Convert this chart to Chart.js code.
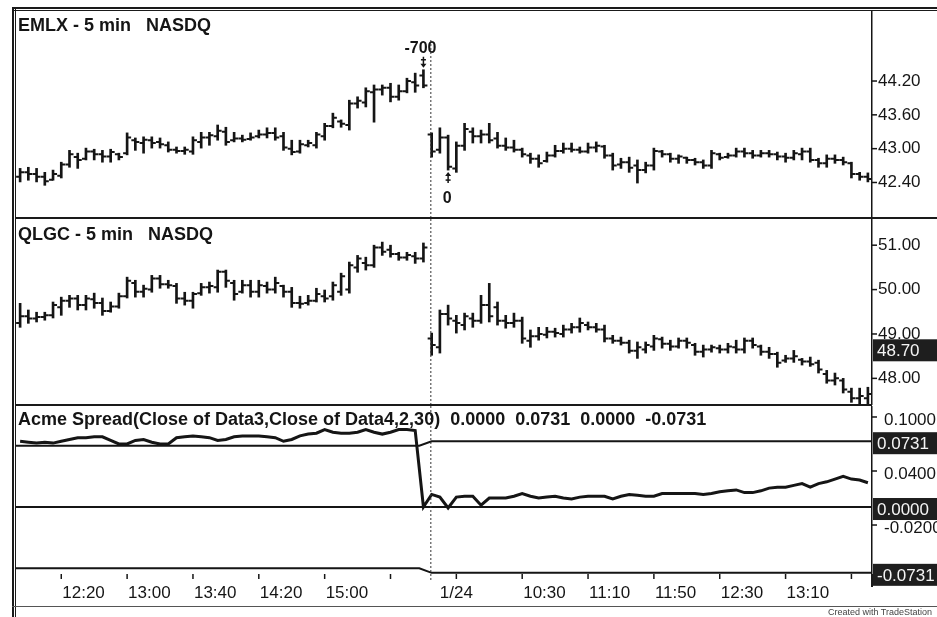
<!DOCTYPE html>
<html>
<head>
<meta charset="utf-8">
<script src="https://cdn.jsdelivr.net/npm/chart.js@4.4.1/dist/chart.umd.min.js"></script>
<style>
  html, body { margin: 0; padding: 0; background: #fff; }
  #wrap { position: relative; width: 937px; height: 617px; overflow: hidden; background: #fff; }
  canvas { position: absolute; left: 16px; }
  .ln { position: absolute; background: #1a1a1a; }
  #credit { position: absolute; left: 828px; top: 607px; font: 9px "Liberation Sans", Arial, sans-serif; color: #444; white-space: nowrap; }
</style>
</head>
<body>
<div id="wrap">
  <canvas id="cEmlx" width="921" height="208" style="top:10px;width:921px;height:208px"></canvas>
  <canvas id="cQlgc" width="921" height="186" style="top:219px;width:921px;height:186px"></canvas>
  <canvas id="cSpread" width="921" height="200" style="top:406px;width:921px;height:200px"></canvas>
  <div class="ln" style="left:12px;top:7px;width:925px;height:2px"></div>
  <div class="ln" style="left:12px;top:10px;width:925px;height:1px"></div>
  <div class="ln" style="left:12px;top:7px;width:2px;height:610px"></div>
  <div class="ln" style="left:15px;top:7px;width:1px;height:610px"></div>
  <div class="ln" style="left:16px;top:217px;width:921px;height:2px"></div>
  <div class="ln" style="left:16px;top:404px;width:856px;height:2px"></div>
  <div class="ln" style="left:871px;top:574px;width:1.5px;height:13px"></div>
  <div class="ln" style="left:12px;top:606px;width:925px;height:1px;background:#555"></div>
  <div id="credit">Created with TradeStation</div>
</div>
<script>
  // sessions: 1/23 11:55-16:00, 1/24 9:35-14:00 (5 min bars)
  function sessionTimes(day, h, m, n) {
    const out = [];
    for (let k = 0; k < n; k++) {
      const t = h * 60 + m + 5 * k;
      out.push(`${day} ${Math.floor(t / 60)}:${String(t % 60).padStart(2, "0")}`);
    }
    return out;
  }
  const barTimes = [...sessionTimes("1/23", 11, 55, 50), ...sessionTimes("1/24", 9, 35, 54)];

  const xTickIdx = [5, 13, 21, 29, 37, 45, 53, 61, 69, 77, 85, 93, 101];
  const xTickText = ["12:20", "13:00", "13:40", "14:20", "15:00", "", "1/24", "10:30", "11:10", "11:50", "12:30", "13:10", ""];

  // EMLX 5 min
  const emlxOpen = [
    42.50, 42.58, 42.55, 42.50, 42.45, 42.52, 42.72, 42.85, 42.82, 42.95,
    42.90, 42.86, 42.90, 42.92, 43.15, 43.10, 43.15, 43.12, 43.06, 42.98,
    42.96, 42.95, 43.12, 43.20, 43.22, 43.30, 43.15, 43.18, 43.17, 43.22,
    43.25, 43.28, 43.22, 43.00, 42.95, 43.06, 43.06, 43.22, 43.40, 43.48,
    43.42, 43.80, 43.82, 44.00, 44.05, 44.08, 43.92, 44.02, 44.18, 44.30,
    43.25, 42.98, 43.20, 42.65, 43.05, 43.30, 43.22, 43.25, 43.18, 43.05,
    43.02, 42.98, 42.88, 42.82, 42.78, 42.88, 42.96, 43.00, 42.98, 42.95,
    43.02, 43.04, 42.88, 42.72, 42.76, 42.70, 42.62, 42.70, 42.95, 42.90,
    42.82, 42.84, 42.80, 42.76, 42.70, 42.90, 42.85, 42.88, 42.95, 42.92,
    42.88, 42.92, 42.90, 42.86, 42.84, 42.90, 42.95, 42.80, 42.74, 42.82,
    42.80, 42.74, 42.55, 42.50
  ];
  const emlxHigh = [
    42.65, 42.67, 42.65, 42.58, 42.62, 42.76, 42.97, 42.92, 43.01, 42.99,
    42.97, 42.99, 42.92, 43.28, 43.19, 43.21, 43.21, 43.19, 43.12, 43.03,
    43.03, 43.21, 43.29, 43.29, 43.42, 43.38, 43.29, 43.24, 43.28, 43.33,
    43.37, 43.37, 43.29, 43.15, 43.15, 43.15, 43.29, 43.45, 43.63, 43.51,
    43.86, 43.92, 44.08, 44.13, 44.13, 44.16, 44.13, 44.25, 44.34, 44.40,
    43.28, 43.37, 43.24, 43.12, 43.45, 43.37, 43.33, 43.45, 43.29, 43.19,
    43.15, 43.01, 42.92, 42.89, 42.94, 43.06, 43.10, 43.10, 43.03, 43.10,
    43.12, 43.06, 42.92, 42.83, 42.85, 42.80, 42.76, 43.01, 42.97, 42.92,
    42.89, 42.85, 42.83, 42.80, 42.97, 42.92, 42.92, 43.01, 43.01, 42.97,
    42.97, 42.97, 42.94, 42.92, 42.97, 43.01, 43.01, 42.83, 42.89, 42.89,
    42.85, 42.76, 42.58, 42.57
  ];
  const emlxLow = [
    42.41, 42.44, 42.41, 42.35, 42.44, 42.48, 42.67, 42.65, 42.80, 42.80,
    42.76, 42.76, 42.80, 42.89, 42.97, 42.92, 43.01, 43.01, 42.94, 42.92,
    42.90, 42.90, 43.01, 43.06, 43.15, 43.06, 43.12, 43.12, 43.15, 43.19,
    43.19, 43.15, 42.97, 42.89, 42.92, 43.03, 43.01, 43.15, 43.37, 43.38,
    43.33, 43.72, 43.74, 43.47, 43.95, 43.83, 43.86, 43.99, 44.00, 44.08,
    42.85, 42.92, 42.62, 42.58, 42.97, 43.10, 43.10, 43.10, 43.01, 42.97,
    42.94, 42.85, 42.74, 42.67, 42.76, 42.85, 42.92, 42.94, 42.92, 42.92,
    42.94, 42.83, 42.62, 42.65, 42.58, 42.39, 42.57, 42.62, 42.85, 42.76,
    42.74, 42.74, 42.71, 42.65, 42.65, 42.80, 42.83, 42.85, 42.85, 42.83,
    42.85, 42.85, 42.80, 42.76, 42.80, 42.80, 42.76, 42.67, 42.67, 42.74,
    42.71, 42.48, 42.44, 42.41
  ];
  const emlxClose = [
    42.58, 42.55, 42.50, 42.42, 42.55, 42.72, 42.90, 42.80, 42.95, 42.90,
    42.86, 42.94, 42.85, 43.20, 43.12, 43.16, 43.10, 43.08, 42.98, 42.96,
    42.98, 43.15, 43.20, 43.24, 43.32, 43.12, 43.18, 43.16, 43.20, 43.25,
    43.28, 43.20, 43.02, 42.94, 43.08, 43.10, 43.25, 43.40, 43.55, 43.44,
    43.80, 43.85, 44.02, 44.05, 44.08, 43.92, 44.02, 44.20, 44.12, 44.12,
    42.95, 43.20, 42.68, 43.05, 43.35, 43.22, 43.25, 43.15, 43.05, 43.02,
    42.98, 42.90, 42.82, 42.74, 42.88, 42.96, 43.00, 42.98, 42.95, 43.02,
    43.05, 42.88, 42.70, 42.76, 42.66, 42.62, 42.70, 42.96, 42.90, 42.82,
    42.86, 42.80, 42.76, 42.70, 42.92, 42.84, 42.88, 42.95, 42.92, 42.88,
    42.92, 42.90, 42.86, 42.84, 42.92, 42.95, 42.80, 42.74, 42.82, 42.80,
    42.76, 42.55, 42.50, 42.46
  ];
  const emlxTicks = [44.2, 43.6, 43.0, 42.4];
  const tradeIdx = [49, 52];
  const tradeText = ["-700", "0"];

  // QLGC 5 min
  const qlgcOpen = [
    49.25, 49.40, 49.35, 49.38, 49.42, 49.60, 49.75, 49.80, 49.65, 49.78,
    49.70, 49.52, 49.62, 49.85, 50.15, 49.95, 50.00, 50.25, 50.12, 50.08,
    49.80, 49.75, 49.92, 50.05, 50.05, 50.40, 50.15, 49.95, 50.10, 49.95,
    50.08, 50.00, 50.08, 49.95, 49.70, 49.70, 49.75, 49.85, 49.85, 49.95,
    50.00, 50.50, 50.60, 50.55, 50.95, 50.90, 50.80, 50.72, 50.75, 50.70,
    48.90, 48.70, 49.45, 49.30, 49.20, 49.35, 49.30, 49.65, 49.60, 49.30,
    49.25, 49.30, 48.85, 48.95, 48.98, 49.05, 49.00, 49.10, 49.15, 49.20,
    49.15, 49.10, 48.90, 48.85, 48.80, 48.62, 48.65, 48.72, 48.88, 48.78,
    48.72, 48.85, 48.75, 48.60, 48.65, 48.68, 48.65, 48.70, 48.65, 48.85,
    48.72, 48.60, 48.55, 48.40, 48.45, 48.42, 48.38, 48.35, 48.10, 47.95,
    47.95, 47.70, 47.55, 47.55
  ];
  const qlgcHigh = [
    49.69, 49.54, 49.49, 49.49, 49.72, 49.83, 49.87, 49.87, 49.87, 49.92,
    49.81, 49.72, 49.92, 50.28, 50.21, 50.10, 50.32, 50.32, 50.21, 50.14,
    49.94, 49.94, 50.14, 50.17, 50.44, 50.44, 50.21, 50.21, 50.21, 50.21,
    50.17, 50.28, 50.10, 50.05, 49.85, 49.87, 50.03, 49.99, 50.17, 50.37,
    50.62, 50.77, 50.73, 51.00, 51.07, 51.00, 50.84, 50.84, 50.84, 51.05,
    49.02, 49.54, 49.65, 49.42, 49.47, 49.47, 49.87, 50.14, 49.72, 49.42,
    49.47, 49.38, 49.09, 49.15, 49.15, 49.13, 49.20, 49.24, 49.36, 49.27,
    49.24, 49.20, 48.97, 48.93, 48.86, 48.82, 48.82, 48.97, 48.93, 48.86,
    48.91, 48.91, 48.79, 48.75, 48.75, 48.75, 48.79, 48.86, 48.91, 48.91,
    48.75, 48.70, 48.59, 48.52, 48.63, 48.45, 48.48, 48.41, 48.18, 48.12,
    48.00, 47.78, 47.78, 47.80
  ];
  const qlgcLow = [
    49.15, 49.24, 49.27, 49.31, 49.36, 49.42, 49.60, 49.54, 49.54, 49.58,
    49.42, 49.49, 49.58, 49.81, 49.83, 49.83, 49.94, 50.03, 50.03, 49.69,
    49.65, 49.58, 49.87, 49.92, 49.94, 50.05, 49.76, 49.92, 49.83, 49.83,
    49.92, 49.92, 49.83, 49.60, 49.58, 49.65, 49.72, 49.72, 49.76, 49.87,
    49.92, 50.39, 50.44, 50.50, 50.77, 50.73, 50.66, 50.66, 50.59, 50.62,
    48.52, 48.57, 49.20, 49.02, 49.09, 49.15, 49.24, 49.27, 49.20, 49.13,
    49.15, 48.79, 48.70, 48.86, 48.91, 48.93, 48.93, 49.02, 49.04, 49.09,
    49.04, 48.82, 48.79, 48.75, 48.57, 48.45, 48.57, 48.63, 48.68, 48.63,
    48.68, 48.68, 48.52, 48.48, 48.59, 48.57, 48.57, 48.57, 48.57, 48.68,
    48.52, 48.45, 48.25, 48.36, 48.36, 48.30, 48.27, 48.12, 47.89, 47.85,
    47.67, 47.46, 47.40, 47.42
  ];
  const qlgcClose = [
    49.40, 49.35, 49.38, 49.42, 49.65, 49.75, 49.80, 49.65, 49.80, 49.70,
    49.52, 49.62, 49.85, 50.20, 49.95, 50.02, 50.25, 50.12, 50.10, 49.80,
    49.75, 49.90, 50.05, 50.08, 50.40, 50.20, 49.90, 50.10, 49.95, 50.10,
    50.00, 50.15, 49.95, 49.70, 49.68, 49.75, 49.90, 49.80, 50.10, 50.30,
    50.55, 50.70, 50.55, 50.95, 50.85, 50.80, 50.72, 50.78, 50.70, 50.95,
    48.75, 49.45, 49.35, 49.25, 49.40, 49.30, 49.65, 49.40, 49.30, 49.25,
    49.30, 48.90, 48.95, 49.00, 49.05, 49.02, 49.10, 49.15, 49.25, 49.15,
    49.10, 48.90, 48.85, 48.80, 48.62, 48.70, 48.75, 48.90, 48.78, 48.72,
    48.85, 48.80, 48.60, 48.65, 48.70, 48.65, 48.72, 48.65, 48.85, 48.75,
    48.60, 48.55, 48.35, 48.45, 48.50, 48.38, 48.32, 48.20, 47.95, 48.00,
    47.75, 47.55, 47.60, 47.65
  ];
  const qlgcTicks = [51, 50, 49, 48];
  const qlgcMarks = [48.70];

  // Acme Spread(Close of Data3,Close of Data4,2,30)
  const spread = [
    0.073, 0.072, 0.071, 0.072, 0.071, 0.073, 0.075, 0.077, 0.077, 0.078,
    0.078, 0.074, 0.070, 0.070, 0.074, 0.075, 0.072, 0.070, 0.070, 0.077,
    0.078, 0.079, 0.078, 0.077, 0.074, 0.075, 0.078, 0.079, 0.079, 0.079,
    0.078, 0.077, 0.073, 0.075, 0.079, 0.081, 0.082, 0.086, 0.083, 0.082,
    0.082, 0.083, 0.086, 0.083, 0.081, 0.083, 0.086, 0.086, 0.085, 0.000,
    0.014, 0.011, -0.001, 0.011, 0.012, 0.012, 0.002, 0.010, 0.010, 0.010,
    0.012, 0.015, 0.012, 0.010, 0.011, 0.012, 0.010, 0.009, 0.011, 0.012,
    0.012, 0.012, 0.009, 0.012, 0.014, 0.013, 0.012, 0.012, 0.015, 0.015,
    0.015, 0.015, 0.015, 0.014, 0.015, 0.017, 0.018, 0.019, 0.016, 0.016,
    0.018, 0.021, 0.022, 0.022, 0.024, 0.026, 0.022, 0.026, 0.028, 0.031,
    0.034, 0.031, 0.030, 0.027
  ];
  const bandX = [-0.5, 48.5, 50, 103.5];
  const upperBand = [0.068, 0.068, 0.0731, 0.0731];
  const lowerBand = [-0.068, -0.068, -0.0731, -0.0731];
  const zeroX = [-0.5, 103.5];
  const zeroLine = [0, 0];
  const spreadTicks = [0.1, 0.04, -0.02];
  const spreadMarks = [0.0731, 0, -0.0731];
  const spreadTitle = "Acme Spread(Close of Data3,Close of Data4,2,30)  0.0000  0.0731  0.0000  -0.0731";

  const INK = "#151515";
  const AXIS_FONT = '17px "Liberation Sans", Arial, sans-serif';
  const TITLE_FONT = 'bold 18px "Liberation Sans", Arial, sans-serif';
  const BREAK_AT = 49.9;

  function panelOptions(min, max, bottomPad) {
    return {
      responsive: false, animation: false, devicePixelRatio: 1,
      layout: { padding: { left: 0, right: 0, top: 0, bottom: bottomPad || 0 } },
      plugins: { legend: { display: false }, tooltip: { enabled: false } },
      scales: {
        x: { display: false, offset: true },
        y: {
          position: "right", min, max,
          afterFit: s => { s.width = 65; },
          grid: { display: false }, ticks: { display: false },
          border: { display: true, color: INK, width: 1.5 }
        }
      }
    };
  }

  // right axis, value boxes, title and session break
  function panelDeco(o) {
    return {
      id: "panelDeco",
      afterDraw(chart) {
        const { ctx, chartArea: a, scales: { x, y } } = chart;
        ctx.save();
        const bx = x.getPixelForValue(BREAK_AT);
        ctx.strokeStyle = "#333"; ctx.lineWidth = 1; ctx.setLineDash([2, 2]);
        ctx.beginPath(); ctx.moveTo(bx, a.top + (o.breakTop || 0)); ctx.lineTo(bx, a.bottom + (o.breakExtra || 0)); ctx.stroke();
        ctx.setLineDash([]);

        ctx.strokeStyle = INK; ctx.fillStyle = INK; ctx.lineWidth = 1.5;
        ctx.font = AXIS_FONT; ctx.textAlign = "left"; ctx.textBaseline = "middle";
        o.ticks.forEach(v => {
          const py = y.getPixelForValue(v);
          ctx.beginPath(); ctx.moveTo(a.right, py); ctx.lineTo(a.right + 5, py); ctx.stroke();
          ctx.fillText(v.toFixed(o.digits), a.right + o.pad, py + o.drop);
        });
        (o.marks || []).forEach(v => {
          const py = y.getPixelForValue(v) + (o.boxDrop || 0);
          ctx.fillStyle = "#1e1e1e";
          ctx.fillRect(a.right + 1, py - 11, chart.width - a.right, 22);
          ctx.fillStyle = "#f4f4f4";
          ctx.fillText(v.toFixed(o.digits), a.right + 5, py + 1);
        });

        ctx.fillStyle = INK; ctx.font = TITLE_FONT; ctx.textBaseline = "alphabetic";
        ctx.fillText(o.title, a.left + 2, a.top + o.titleY);
        ctx.restore();
      }
    };
  }

  // open / close ticks on the high-low bars
  function ohlcTicks(open, close) {
    return {
      id: "ohlcTicks",
      afterDatasetsDraw(chart) {
        const { ctx, scales: { x, y } } = chart;
        ctx.save();
        ctx.strokeStyle = INK; ctx.lineWidth = 2;
        open.forEach((op, i) => {
          const px = x.getPixelForValue(i);
          const yo = y.getPixelForValue(op), yc = y.getPixelForValue(close[i]);
          ctx.beginPath();
          ctx.moveTo(px - 4, yo); ctx.lineTo(px, yo);
          ctx.moveTo(px, yc); ctx.lineTo(px + 4, yc);
          ctx.stroke();
        });
        ctx.restore();
      }
    };
  }

  const tradeMarks = {
    id: "tradeMarks",
    afterDraw(chart) {
      const { ctx, scales: { x, y } } = chart;
      ctx.save();
      ctx.fillStyle = INK; ctx.strokeStyle = INK; ctx.lineWidth = 1.5;
      ctx.font = 'bold 16px "Liberation Sans", Arial, sans-serif';
      ctx.textAlign = "center"; ctx.textBaseline = "alphabetic";
      tradeIdx.forEach((idx, k) => {
        const px = x.getPixelForValue(idx);
        if (k === 0) {
          const top = y.getPixelForValue(emlxHigh[idx]);
          ctx.beginPath(); ctx.moveTo(px, top - 13); ctx.lineTo(px, top - 5); ctx.stroke();
          ctx.beginPath(); ctx.moveTo(px - 2.5, top - 10); ctx.lineTo(px + 2.5, top - 10); ctx.stroke();
          ctx.beginPath(); ctx.moveTo(px - 3, top - 6); ctx.lineTo(px + 3, top - 6); ctx.lineTo(px, top - 2); ctx.closePath(); ctx.fill();
          ctx.fillText(tradeText[k], px - 3, top - 17);
        } else {
          const bot = y.getPixelForValue(emlxLow[idx]);
          ctx.beginPath(); ctx.moveTo(px, bot + 13); ctx.lineTo(px, bot + 5); ctx.stroke();
          ctx.beginPath(); ctx.moveTo(px - 2.5, bot + 10); ctx.lineTo(px + 2.5, bot + 10); ctx.stroke();
          ctx.beginPath(); ctx.moveTo(px - 3, bot + 6); ctx.lineTo(px + 3, bot + 6); ctx.lineTo(px, bot + 2); ctx.closePath(); ctx.fill();
          ctx.fillText(tradeText[k], px - 1, bot + 33);
        }
      });
      ctx.restore();
    }
  };

  const timeAxis = {
    id: "timeAxis",
    afterDraw(chart) {
      const { ctx, chartArea: a, scales: { x } } = chart;
      ctx.save();
      ctx.strokeStyle = INK; ctx.fillStyle = INK; ctx.lineWidth = 1.5;
      ctx.font = AXIS_FONT; ctx.textBaseline = "alphabetic";
      xTickIdx.forEach((idx, k) => {
        const px = x.getPixelForValue(idx);
        ctx.beginPath(); ctx.moveTo(px, a.bottom); ctx.lineTo(px, a.bottom + 5); ctx.stroke();
        const t = xTickText[k];
        if (!t) return;
        const isDate = t.includes("/");
        ctx.textAlign = isDate ? "center" : "left";
        ctx.fillText(t, isDate ? px : px + 1, a.bottom + 24);
      });
      ctx.restore();
    }
  };

  const barSet = (low, high) => ({
    data: low.map((l, i) => [l, high[i]]),
    backgroundColor: INK, borderWidth: 0, barThickness: 2, borderSkipped: false
  });

  new Chart(document.getElementById("cEmlx"), {
    type: "bar",
    data: { labels: barTimes, datasets: [barSet(emlxLow, emlxHigh)] },
    options: panelOptions(41.77, 45.46),
    plugins: [ohlcTicks(emlxOpen, emlxClose), tradeMarks,
      panelDeco({ title: "EMLX - 5 min   NASDQ", titleY: 21, ticks: emlxTicks, digits: 2, pad: 6, drop: 0, breakTop: 30 })]
  });

  new Chart(document.getElementById("cQlgc"), {
    type: "bar",
    data: { labels: barTimes, datasets: [barSet(qlgcLow, qlgcHigh)] },
    options: panelOptions(47.40, 51.59),
    plugins: [ohlcTicks(qlgcOpen, qlgcClose),
      panelDeco({ title: "QLGC - 5 min   NASDQ", titleY: 21, ticks: qlgcTicks, digits: 2, pad: 6, drop: 0, marks: qlgcMarks, boxDrop: 3 })]
  });

  const lineSet = (xs, ys, w) => ({
    data: xs.map((x, k) => ({ x, y: ys[k] })),
    borderColor: INK, borderWidth: w, pointRadius: 0, tension: 0, fill: false
  });

  const spreadOpts = panelOptions(-0.0744, 0.1122, 32);
  spreadOpts.scales.x = { type: "linear", display: false, min: -0.5, max: 103.5 };

  new Chart(document.getElementById("cSpread"), {
    type: "line",
    data: {
      datasets: [
        lineSet(spread.map((v, i) => i), spread, 3),
        lineSet(bandX, upperBand, 2),
        lineSet(zeroX, zeroLine, 2),
        lineSet(bandX, lowerBand, 2)
      ]
    },
    options: spreadOpts,
    plugins: [timeAxis,
      panelDeco({ title: spreadTitle, titleY: 19, ticks: spreadTicks, digits: 4, pad: 12, drop: 3, marks: spreadMarks, boxDrop: 2, breakExtra: 8 })]
  });
</script>
</body>
</html>
